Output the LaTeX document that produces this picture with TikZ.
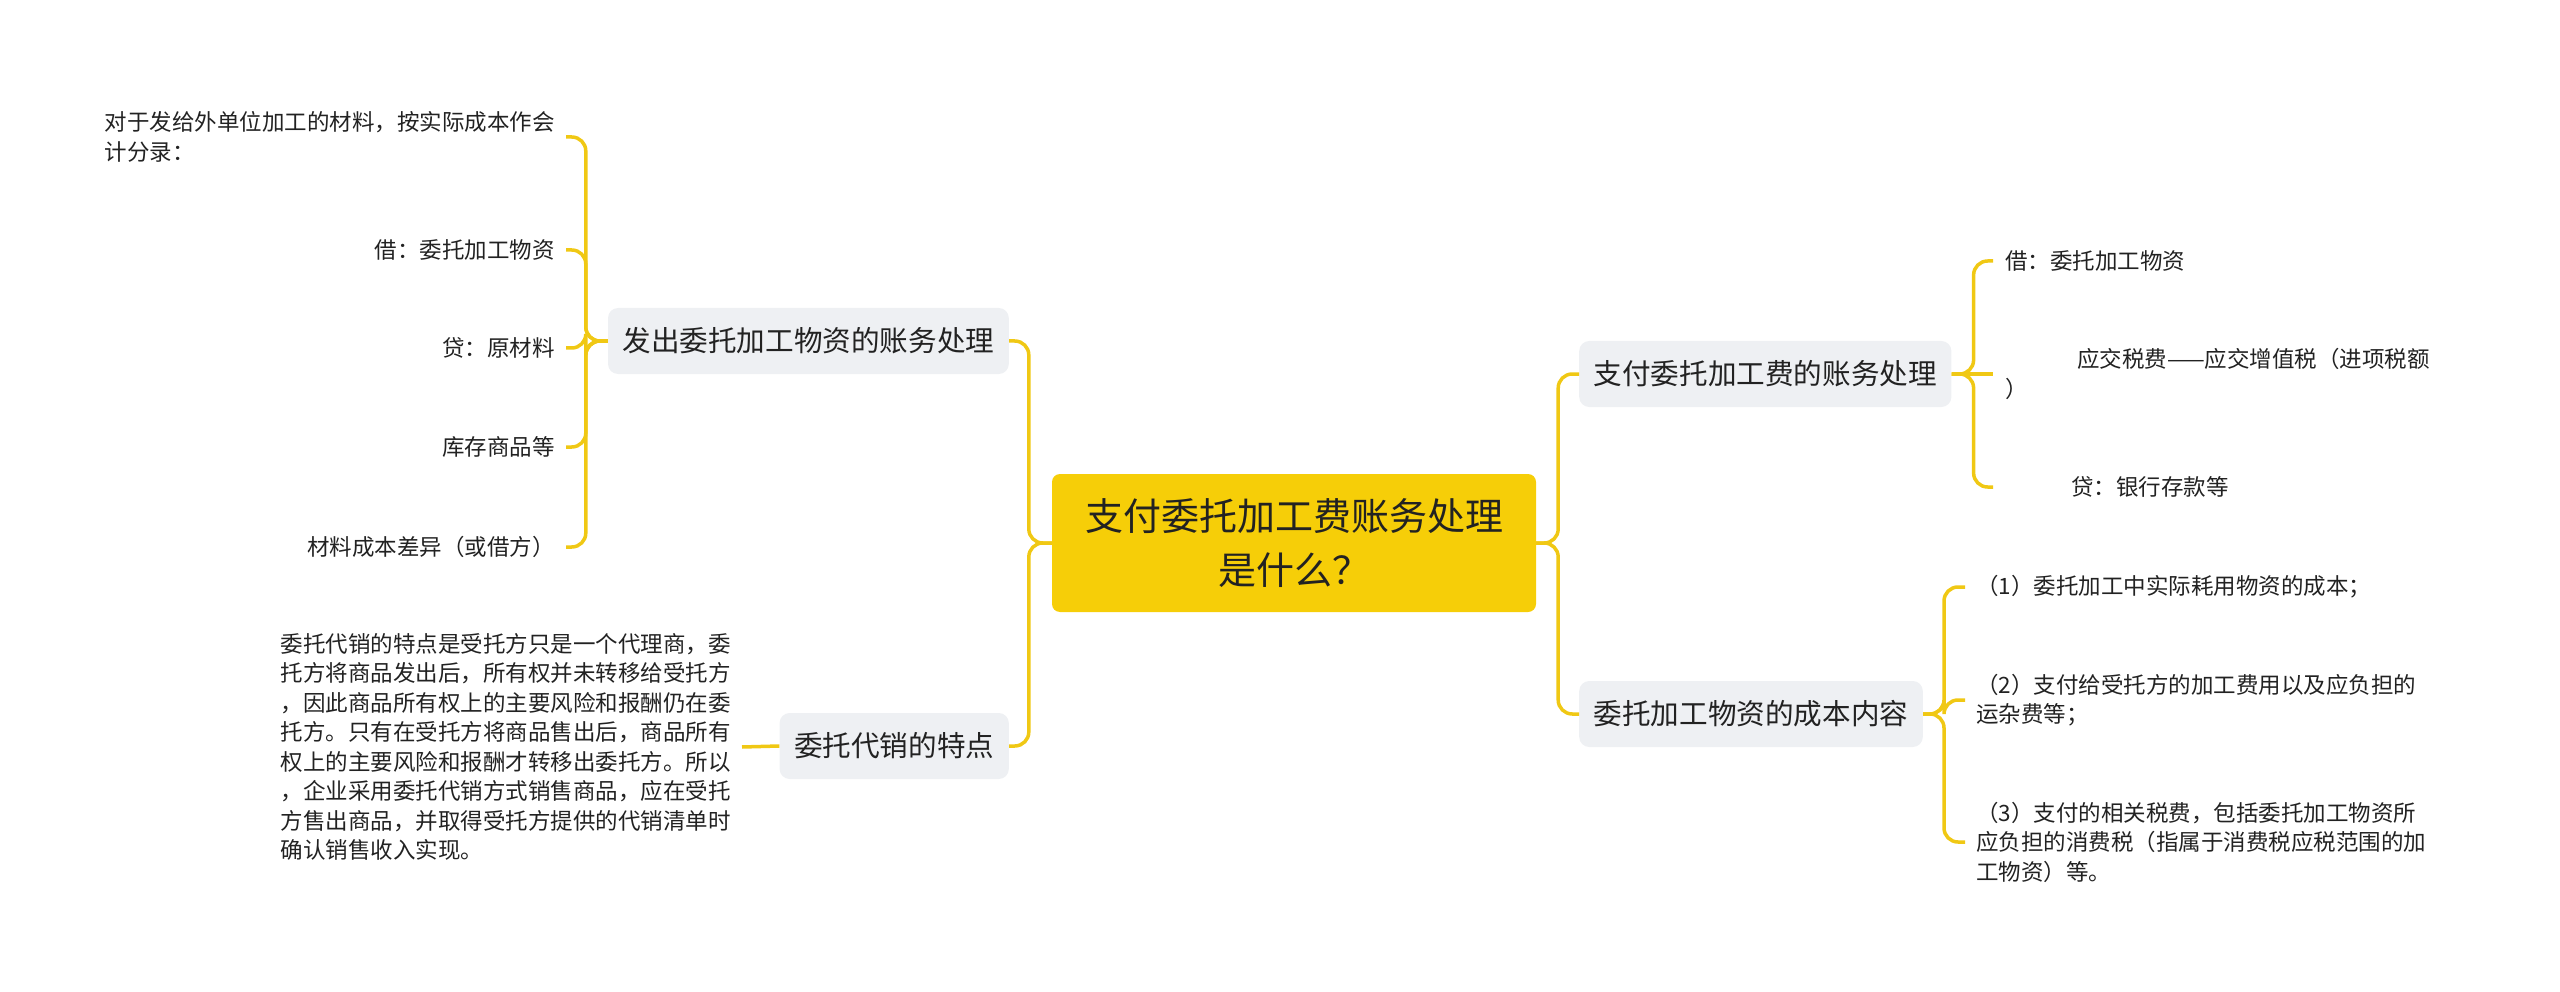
\documentclass[tikz,border=0pt]{standalone}
\usepackage{fontspec}
\setmainfont{Noto Sans CJK SC}
\definecolor{lineY}{RGB}{240,200,20}
\definecolor{rootY}{RGB}{246,206,8}
\definecolor{boxG}{RGB}{238,240,243}
\definecolor{txt}{RGB}{34,34,34}
\begin{document}
\begin{tikzpicture}[x=1pt,y=-1pt,
  conn/.style={draw=lineY, line width=3.5pt, rounded corners=14pt},
  rootbox/.style={fill=rootY, rounded corners=8pt, minimum width=484pt, minimum height=138pt, align=center, font=\fontsize{38}{54}\selectfont, text=txt},
  branchbox/.style={fill=boxG, rounded corners=10pt, inner xsep=14.5pt, minimum height=66pt, font=\fontsize{28.6}{34}\selectfont, text=txt},
  leafL/.style={anchor=east, inner xsep=11pt, inner ysep=0pt, align=left, font=\fontsize{22.5}{29.5}\selectfont, text=txt},
  leafR/.style={anchor=west, inner xsep=12pt, inner ysep=0pt, align=left, font=\fontsize{22.5}{29.5}\selectfont, text=txt}
]
\useasboundingbox (0,0) rectangle (2560,992);

\node[rootbox] (root) at (1294,543) {支付委托加工费账务处理\\是什么？};

\node[branchbox, anchor=east] (L1) at (1009,341) {发出委托加工物资的账务处理};
\node[branchbox, anchor=east] (L2) at (1009,746) {委托代销的特点};
\node[branchbox, anchor=west] (R1) at (1579,374) {支付委托加工费的账务处理};
\node[branchbox, anchor=west] (R2) at (1579,714) {委托加工物资的成本内容};

% left branch 1 leaves
\node[leafL] (c1) at (566,137) {对于发给外单位加工的材料，按实际成本作会\\计分录：};
\node[leafL] (c2) at (566,250) {借：委托加工物资};
\node[leafL] (c3) at (566,348) {贷：原材料};
\node[leafL] (c4) at (566,447) {库存商品等};
\node[leafL] (c5) at (566,547) {材料成本差异（或借方）};

% left branch 2 paragraph
\node[leafL] (p) at (742,747) {委托代销的特点是受托方只是一个代理商，委\\托方将商品发出后，所有权并未转移给受托方\\，因此商品所有权上的主要风险和报酬仍在委\\托方。只有在受托方将商品售出后，商品所有\\权上的主要风险和报酬才转移出委托方。所以\\，企业采用委托代销方式销售商品，应在受托\\方售出商品，并取得受托方提供的代销清单时\\确认销售收入实现。};

% right branch 1 leaves
\node[leafR] (r1) at (1993,261) {借：委托加工物资};
\node[leafR] (r2) at (1993,374) {\hspace*{72pt}应交税费——应交增值税（进项税额\\）};
\node[leafR] (r3) at (1993,487) {\hspace*{66pt}贷：银行存款等};

% right branch 2 leaves
\node[leafR, inner xsep=11pt] (s1) at (1965,587) {（1）委托加工中实际耗用物资的成本；};
\node[leafR, inner xsep=11pt] (s2) at (1965,700) {（2）支付给受托方的加工费用以及应负担的\\运杂费等；};
\node[leafR, inner xsep=11pt] (s3) at (1965,842) {（3）支付的相关税费，包括委托加工物资所\\应负担的消费税（指属于消费税应税范围的加\\工物资）等。};

% connectors
\draw[conn] (root.west) -- ++(-23,0) |- (L1.east);
\draw[conn] (root.west) -- ++(-23,0) |- (L2.east);
\draw[conn] (root.east) -- ++(22,0) |- (R1.west);
\draw[conn] (root.east) -- ++(22,0) |- (R2.west);

\foreach \c in {c1,c2,c3,c4,c5}
  \draw[conn] (L1.west) -- ++(-22,0) |- (\c.east);
\draw[conn] (L2.west) -- (p.east);

\draw[conn] (R1.east) -- ++(22,0) |- (r1.west);
\draw[conn] (R1.east) -- (r2.west);
\draw[conn] (R1.east) -- ++(22,0) |- (r3.west);
\foreach \c in {s1,s2,s3}
  \draw[conn] (R2.east) -- ++(21,0) |- (\c.west);
\end{tikzpicture}
\end{document}
